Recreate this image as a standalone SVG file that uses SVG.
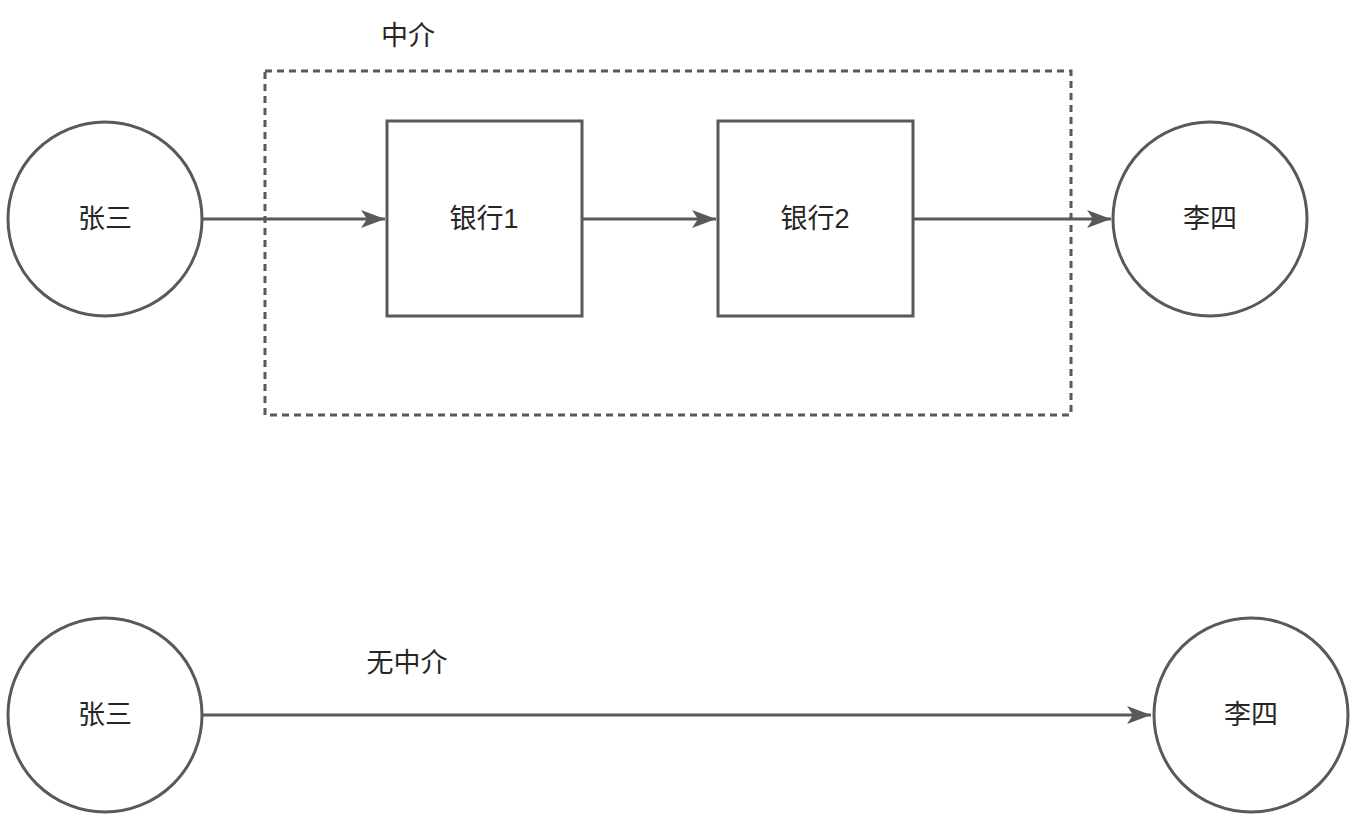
<svg xmlns="http://www.w3.org/2000/svg" width="1361" height="818" viewBox="0 0 1361 818">
<style>
.shape{fill:#ffffff;stroke:#595959;stroke-width:3}
.edge{fill:none;stroke:#595959;stroke-width:3}
.lbl{font-family:"Liberation Sans","Noto Sans CJK SC",sans-serif;font-size:27px;fill:#262626;text-anchor:middle;dominant-baseline:central}
</style>
<defs>
<marker id="arr" markerUnits="userSpaceOnUse" markerWidth="28" markerHeight="22" viewBox="-26 -11 28 22" refX="0" refY="0" orient="auto">
<path d="M0,0 L-24,-9 L-18,0 L-24,9 Z" fill="#595959" stroke="none"/>
</marker>
</defs>
<rect id="group-zhongjie" x="265" y="71" width="806" height="344" fill="none" stroke="#595959" stroke-width="3" stroke-dasharray="7 5"/>
<text class="lbl" x="408" y="36">中介</text>
<g id="connectors">
<line class="edge" x1="203" y1="219" x2="385" y2="219" marker-end="url(#arr)"/>
<line class="edge" x1="582" y1="219" x2="716" y2="219" marker-end="url(#arr)"/>
<line class="edge" x1="913" y1="219" x2="1111" y2="219" marker-end="url(#arr)"/>
<line class="edge" x1="203" y1="715" x2="1151" y2="715" marker-end="url(#arr)"/>
</g>
<text class="lbl" x="407" y="663">无中介</text>
<g id="zhangsan1"><circle class="shape" cx="105" cy="219" r="97"/><text class="lbl" x="105" y="219">张三</text></g>
<g id="bank1"><rect class="shape" x="387" y="121" width="195" height="195"/><text class="lbl" x="484" y="219">银行1</text></g>
<g id="bank2"><rect class="shape" x="718" y="121" width="195" height="195"/><text class="lbl" x="815" y="219">银行2</text></g>
<g id="lisi1"><circle class="shape" cx="1210" cy="219" r="97"/><text class="lbl" x="1210" y="219">李四</text></g>
<g id="zhangsan2"><circle class="shape" cx="105" cy="715" r="97"/><text class="lbl" x="105" y="715">张三</text></g>
<g id="lisi2"><circle class="shape" cx="1251" cy="715" r="97"/><text class="lbl" x="1251" y="715">李四</text></g>
</svg>
